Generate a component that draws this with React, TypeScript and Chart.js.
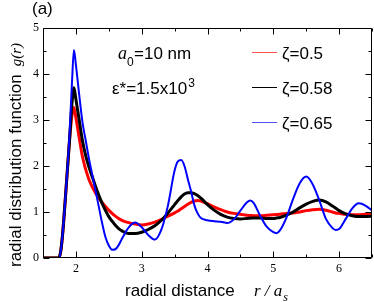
import React, { useEffect, useRef } from "react";
import { Chart, registerables } from "chart.js";

Chart.register(...registerables);

// radial distance r / a_s
const R = [
  1.5, 1.74, 1.77, 1.8, 1.85, 1.9, 1.94, 1.97,
  2.0, 2.05, 2.1, 2.15, 2.2, 2.25, 2.3, 2.35, 2.4, 2.45, 2.5, 2.55, 2.6, 2.65, 2.7,
  2.8, 2.9, 3.0, 3.1, 3.2, 3.3, 3.4, 3.5,
  3.55, 3.6, 3.65, 3.7,
  3.75, 3.8, 3.85, 3.9,
  4.0, 4.1, 4.2, 4.3, 4.4, 4.5, 4.6, 4.65,
  4.7, 4.8, 4.9, 5.0, 5.05,
  5.1, 5.2, 5.3, 5.4, 5.5, 5.6, 5.7, 5.8, 5.9, 5.95,
  6.0, 6.1, 6.2, 6.3, 6.4, 6.5,
];

// g(r) for zeta = 0.5
const G_050 = [
  0, 0, 0.15, 0.55, 1.5, 2.5, 3.1, 3.27,
  3.05, 2.62, 2.2, 1.92, 1.7, 1.54, 1.41, 1.3, 1.2, 1.12, 1.04, 0.97, 0.91, 0.86, 0.82,
  0.77, 0.74, 0.72, 0.74, 0.78, 0.84, 0.91, 0.98,
  1.02, 1.07, 1.12, 1.17,
  1.21, 1.24, 1.25, 1.24,
  1.18, 1.11, 1.05, 1.0, 0.97, 0.95, 0.93, 0.925,
  0.92, 0.92, 0.93, 0.94, 0.945,
  0.95, 0.97, 0.98, 1.0, 1.03, 1.05, 1.06, 1.04, 1.0, 0.98,
  0.97, 0.95, 0.94, 0.94, 0.95, 0.95,
];

// g(r) for zeta = 0.58
const G_058 = [
  0, 0, 0.15, 0.55, 1.5, 2.5, 3.35, 3.7,
  3.45, 3.0, 2.55, 2.22, 1.97, 1.76, 1.55, 1.36, 1.18, 1.03, 0.9, 0.8, 0.71, 0.64, 0.59,
  0.53, 0.53, 0.56, 0.62, 0.7, 0.82, 0.98, 1.16,
  1.25, 1.33, 1.39, 1.42,
  1.42, 1.4, 1.36, 1.3,
  1.16, 1.04, 0.95, 0.89, 0.86, 0.85, 0.86, 0.865,
  0.87, 0.87, 0.86, 0.86, 0.87,
  0.88, 0.93, 1.0, 1.09, 1.17, 1.23, 1.26, 1.22, 1.13, 1.08,
  1.03, 0.96, 0.92, 0.9, 0.9, 0.91,
];

// g(r) for zeta = 0.65
const G_065 = [
  0, 0, 0.15, 0.55, 1.5, 2.6, 3.8, 4.52,
  4.2, 3.55, 2.95, 2.55, 2.15, 1.8, 1.45, 1.1, 0.75, 0.45, 0.27, 0.18, 0.19, 0.28, 0.42,
  0.66, 0.77, 0.67, 0.5, 0.4, 0.62, 1.15, 1.9,
  2.1, 2.13, 2.0, 1.72,
  1.45, 1.15, 0.97, 0.87,
  0.82, 0.8, 0.79, 0.76, 0.84, 1.03, 1.21, 1.25,
  1.2, 0.92, 0.68, 0.56, 0.54,
  0.6, 0.88, 1.28, 1.62, 1.77, 1.6, 1.25, 0.85, 0.65, 0.61,
  0.63, 0.85, 1.08, 1.19, 1.14, 1.03,
];

const X_TICKS = [2, 3, 4, 5, 6];
const Y_TICKS = [0, 1, 2, 3, 4, 5];
const X_MINOR = [1.5, 2.5, 3.5, 4.5, 5.5, 6.5];
const Y_MINOR = [0.5, 1.5, 2.5, 3.5, 4.5];
const LEGEND = ["ζ=0.5", "ζ=0.58", "ζ=0.65"];
const COLORS = ["#ff0000", "#000000", "#0000ff"];
const LEGEND_COLORS = ["#ff5050", "#000000", "#5050ff"];

const SANS = '"Liberation Sans", Arial, Helvetica, sans-serif';
const SERIF = '"Liberation Serif", "Times New Roman", serif';

const decor = {
  id: "decor",
  afterDraw(chart: any) {
    const ctx = chart.ctx as CanvasRenderingContext2D;
    const a = chart.chartArea;
    const xs = chart.scales.x;
    const ys = chart.scales.y;
    const L = Math.round(a.left) + 0.5;
    const Rr = Math.round(a.right) - 0.5;
    const T = Math.round(a.top) + 0.5;
    const B = Math.round(a.bottom) - 0.5;
    ctx.save();
    ctx.strokeStyle = "#000";
    ctx.lineWidth = 1;
    ctx.beginPath();
    ctx.rect(L, T, Rr - L, B - T);
    const tick = (v: number, len: number, axis: "x" | "y") => {
      if (axis === "x") {
        const px = Math.round(xs.getPixelForValue(v)) + 0.5;
        ctx.moveTo(px, B);
        ctx.lineTo(px, B - len);
        ctx.moveTo(px, T);
        ctx.lineTo(px, T + len);
      } else {
        const py = Math.round(ys.getPixelForValue(v)) + 0.5;
        ctx.moveTo(L, py);
        ctx.lineTo(L + len, py);
        ctx.moveTo(Rr, py);
        ctx.lineTo(Rr - len, py);
      }
    };
    X_TICKS.forEach((v) => tick(v, 6, "x"));
    X_MINOR.forEach((v) => tick(v, 3, "x"));
    Y_TICKS.forEach((v) => tick(v, 6, "y"));
    Y_MINOR.forEach((v) => tick(v, 3, "y"));
    ctx.stroke();

    ctx.fillStyle = "#000";
    ctx.textBaseline = "alphabetic";
    ctx.textAlign = "left";

    // (a)
    ctx.font = `17px ${SANS}`;
    ctx.fillText("(a)", 32, 14);

    // y title (rotated)
    ctx.save();
    ctx.translate(21, 267);
    ctx.rotate(-Math.PI / 2);
    ctx.font = `17px ${SANS}`;
    const yt = "radial distribution function";
    ctx.fillText(yt, 0, 0);
    const w = ctx.measureText(yt).width + 8;
    ctx.font = `italic 15px ${SERIF}`;
    ctx.fillText("g(r)", w, 0);
    ctx.restore();

    // x title
    ctx.font = `17px ${SANS}`;
    ctx.fillText("radial distance", 125, 296);
    ctx.font = `italic 17px ${SERIF}`;
    ctx.fillText("r / a", 254, 296);
    const wa = ctx.measureText("r / a").width;
    ctx.font = `italic 12px ${SERIF}`;
    ctx.fillText("s", 254 + wa + 1, 301);

    // annotations
    ctx.font = `italic 18px ${SERIF}`;
    ctx.fillText("a", 118, 59);
    ctx.font = `12px ${SANS}`;
    ctx.fillText("0", 127, 66);
    ctx.font = `17px ${SANS}`;
    ctx.fillText("=10 nm", 134, 59);

    ctx.font = `17px ${SANS}`;
    const et = "ε*=1.5x10";
    ctx.fillText(et, 112, 94);
    const we = ctx.measureText(et).width;
    ctx.font = `12px ${SANS}`;
    ctx.fillText("3", 112 + we + 1, 87);

    // legend
    const ly = [52, 87, 122];
    LEGEND.forEach((t, i) => {
      ctx.strokeStyle = LEGEND_COLORS[i];
      ctx.lineWidth = 1;
      ctx.beginPath();
      ctx.moveTo(252, ly[i] + 0.5);
      ctx.lineTo(277, ly[i] + 0.5);
      ctx.stroke();
      ctx.font = `17px ${SANS}`;
      ctx.fillStyle = "#000";
      ctx.fillText(t, 282, ly[i] + 7);
    });
    ctx.restore();
  },
};

export default function App() {
  const ref = useRef<HTMLCanvasElement | null>(null);
  useEffect(() => {
    if (!ref.current) return;
    const series = [G_050, G_058, G_065];
    const chart = new Chart(ref.current, {
      type: "line",
      data: {
        datasets: series.map((s, i) => ({
          label: LEGEND[i],
          data: R.map((r, k) => ({ x: r, y: s[k] })),
          borderColor: COLORS[i],
          borderWidth: i === 2 ? 2 : 3,
          pointRadius: 0,
          fill: false,
          cubicInterpolationMode: "monotone" as const,
          order: 2 - i,
        })),
      },
      options: {
        responsive: false,
        animation: false,
        events: [],
        layout: { padding: { top: 28, right: 2, left: 0, bottom: 0 } },
        plugins: { legend: { display: false }, tooltip: { enabled: false } },
        scales: {
          x: {
            type: "linear",
            min: 1.5,
            max: 6.5,
            grid: { display: false, drawTicks: false },
            border: { display: false },
            afterBuildTicks: (s: any) => {
              s.ticks = X_TICKS.map((v) => ({ value: v }));
            },
            afterFit: (s: any) => {
              s.height = 44;
            },
            ticks: {
              autoSkip: false,
              maxRotation: 0,
              padding: 4,
              color: "#000",
              font: { family: SERIF, size: 12 },
            },
          },
          y: {
            type: "linear",
            min: 0,
            max: 5,
            grid: { display: false, drawTicks: false },
            border: { display: false },
            afterBuildTicks: (s: any) => {
              s.ticks = Y_TICKS.map((v) => ({ value: v }));
            },
            afterFit: (s: any) => {
              s.width = 43;
            },
            ticks: {
              padding: 4,
              color: "#000",
              font: { family: SERIF, size: 12 },
            },
          },
        },
      },
      plugins: [decor],
    });
    return () => chart.destroy();
  }, []);
  return (
    <canvas
      ref={ref}
      width={374}
      height={302}
      style={{ position: "fixed", left: 0, top: 0, width: 374, height: 302 }}
    />
  );
}
